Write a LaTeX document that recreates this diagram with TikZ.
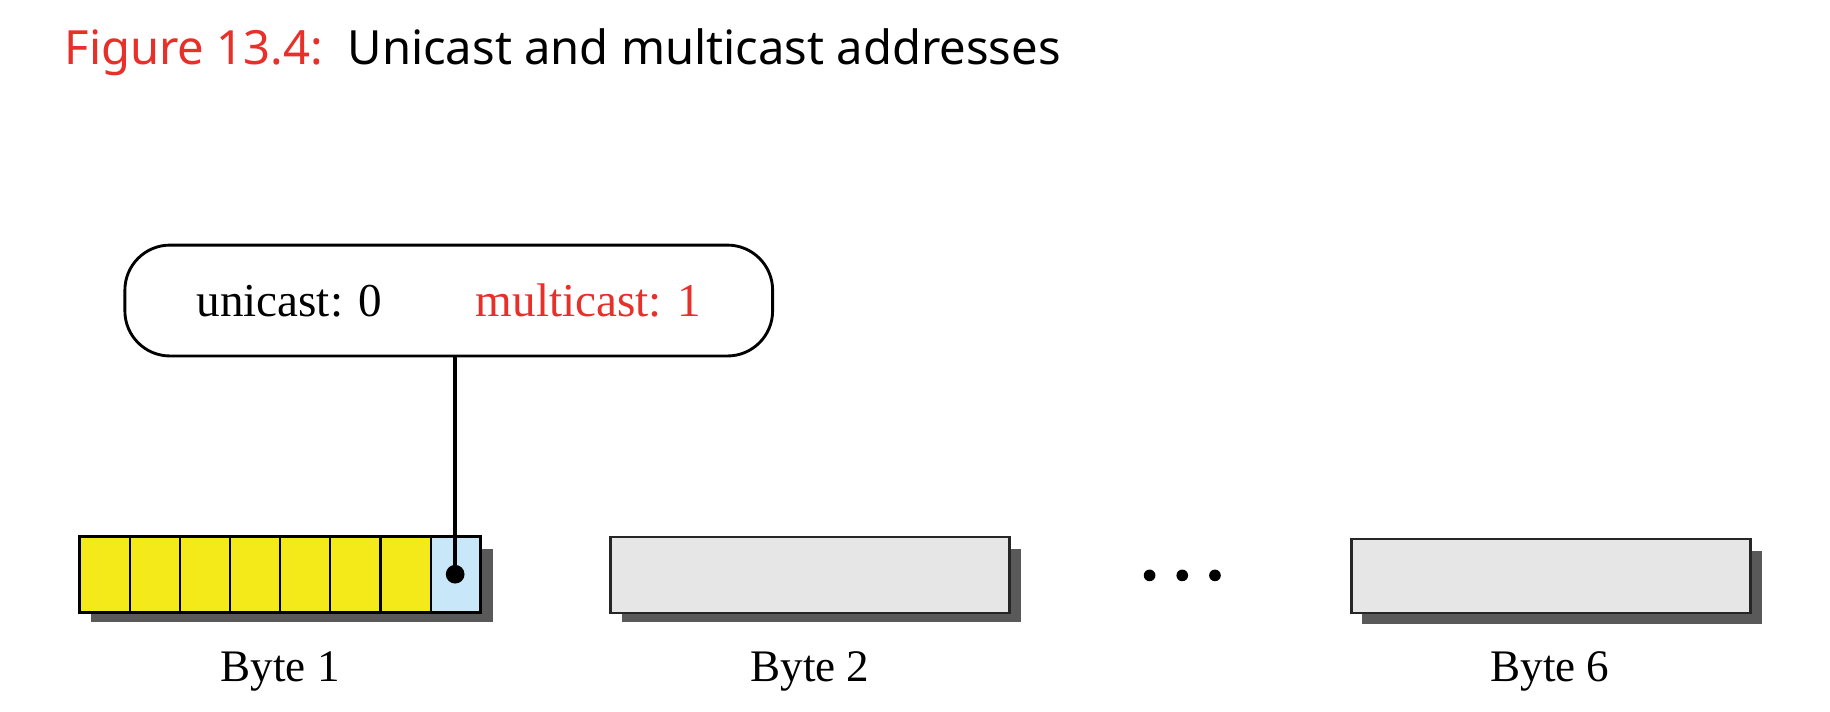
\documentclass[tikz,border=0pt]{standalone}
\usepackage{fontspec}
\setmainfont{Liberation Serif}
\newfontfamily\titlefont{Noto Sans}
\usetikzlibrary{calc}
\definecolor{figred}{HTML}{E8302A}
\definecolor{bityellow}{HTML}{F4EA1A}
\definecolor{bitblue}{HTML}{C8E8FA}
\definecolor{bytegray}{HTML}{E6E6E6}
\definecolor{shadowgray}{HTML}{595959}
\tikzset{bytebox/.style={draw=black!85, line width=1.2pt, fill=bytegray},
  shadowbox/.style={fill=shadowgray},
  bytelabel/.style={font=\fontsize{22}{26}\selectfont}}
\begin{document}
\begin{tikzpicture}[x=0.02cm, y=-0.02cm]
\useasboundingbox (0,0) rectangle (1568,610);

\node[anchor=base west, inner sep=0, font=\titlefont\fontsize{23}{28}\selectfont] (title) at (55,55)
  {\textcolor{figred}{Figure 13.4:}\ \ Unicast and multicast addresses};

% byte 1
\fill[shadowbox] (78,470) rectangle (422,533);
\foreach \i in {0,...,6}
  \draw[line width=1pt, fill=bityellow] (68+43*\i,460) rectangle (111+43*\i,525);
\draw[line width=1pt, fill=bitblue] (369,460) rectangle (412,525);
\draw[line width=1.4pt] (68,460) rectangle (412,525);
\coordinate (bit) at (390,492);
\fill (bit) circle (8);

% byte 2 and byte 6
\fill[shadowbox] (533,470) rectangle (875,533);
\draw[bytebox] (523,460) rectangle (865,525);
\fill[shadowbox] (1167,472) rectangle (1510,535);
\draw[bytebox] (1158,462) rectangle (1500,525);

\foreach \x in {985,1013,1041}
  \fill (\x,493) circle (5);

\node[bytelabel] (b1) at (240,575) {Byte 1};
\node[bytelabel] (b2) at (694,575) {Byte 2};
\node[bytelabel] (b6) at (1328,575) {Byte 6};

% callout
\node[draw, line width=1.4pt, rounded corners=22pt, minimum width=555*0.02cm, minimum height=95*0.02cm,
  font=\fontsize{23}{28}\selectfont] (cast) at (384.5,257.5)
  {unicast: 0\hspace{1.6cm}\textcolor{figred}{multicast: 1}};
\draw[line width=1.8pt] (cast.south -| bit) -- (bit);
\end{tikzpicture}
\end{document}
